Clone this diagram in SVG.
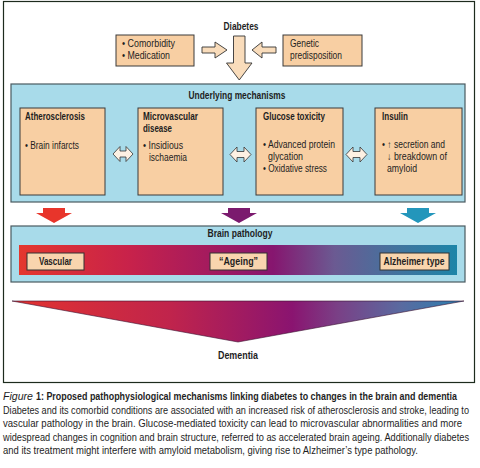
<svg xmlns="http://www.w3.org/2000/svg" width="480" height="468" viewBox="0 0 480 468">
<defs>
<style>
text{font-family:"Liberation Sans",Arial,sans-serif;fill:#1e1e1e}
.t{font-size:10px;font-weight:bold}
.b{font-size:10px}
.h{font-size:10px;font-weight:bold}
.c{font-size:8.6px}
.box{fill:#f8cfa3;stroke:#3a3a3a;stroke-width:1}
.lbl{fill:#f9d5ae;stroke:#333;stroke-width:1}
.panel{fill:#a8dbea;stroke:#4a5a60;stroke-width:1.2}
.arr{fill:#f9dcbb;stroke:#333;stroke-width:0.9;stroke-linejoin:miter}
.dbl{fill:#fdf1e3;stroke:#333;stroke-width:0.8}
</style>
<linearGradient id="bar" x1="0" y1="0" x2="1" y2="0">
<stop offset="0" stop-color="#e4372e"/>
<stop offset="0.25" stop-color="#c8224a"/>
<stop offset="0.45" stop-color="#a11a60"/>
<stop offset="0.58" stop-color="#86166f"/>
<stop offset="0.72" stop-color="#6b5a92"/>
<stop offset="0.86" stop-color="#43739e"/>
<stop offset="1" stop-color="#1d85a8"/>
</linearGradient>
<linearGradient id="tri" x1="0" y1="0" x2="1" y2="0">
<stop offset="0" stop-color="#e2332f"/>
<stop offset="0.35" stop-color="#c0244c"/>
<stop offset="0.62" stop-color="#8a1470"/>
<stop offset="0.72" stop-color="#7a4086"/>
<stop offset="0.86" stop-color="#5a6aa0"/>
<stop offset="1" stop-color="#2a80b0"/>
</linearGradient>
</defs>
<rect x="0" y="0" width="480" height="468" fill="#ffffff"/>
<rect x="3.5" y="1.5" width="471" height="381" fill="#ffffff" stroke="#1d2b1d" stroke-width="1.2"/>

<g id="diabetes"><text class="h" x="241" y="30" text-anchor="middle" textLength="35" lengthAdjust="spacingAndGlyphs">Diabetes</text></g>
<g id="comorbidity">
<rect class="box" x="116" y="35" width="78" height="31"/>
<text class="b" x="122" y="47" textLength="53" lengthAdjust="spacingAndGlyphs">• Comorbidity</text>
<text class="b" x="122" y="59" textLength="48" lengthAdjust="spacingAndGlyphs">• Medication</text>
</g>
<g id="genetic">
<rect class="box" x="283" y="35" width="79" height="31"/>
<text class="b" x="290" y="47" textLength="29" lengthAdjust="spacingAndGlyphs">Genetic</text>
<text class="b" x="290" y="59" textLength="52" lengthAdjust="spacingAndGlyphs">predisposition</text>
</g>

<g id="mechanisms">
<rect class="panel" x="11" y="84" width="454" height="118"/>
<text class="h" x="237" y="99" text-anchor="middle" textLength="97" lengthAdjust="spacingAndGlyphs">Underlying mechanisms</text>
</g>
<g id="atherosclerosis">
<rect class="box" x="20" y="108" width="85" height="87"/>
<text class="t" x="25" y="120" textLength="60" lengthAdjust="spacingAndGlyphs">Atherosclerosis</text>
<text class="b" x="25" y="149" textLength="54" lengthAdjust="spacingAndGlyphs">• Brain infarcts</text>
</g>
<g id="microvascular">
<rect class="box" x="138" y="108" width="85" height="87"/>
<text class="t" x="143" y="120" textLength="55" lengthAdjust="spacingAndGlyphs">Microvascular</text>
<text class="t" x="143" y="132" textLength="29" lengthAdjust="spacingAndGlyphs">disease</text>
<text class="b" x="143" y="149" textLength="40" lengthAdjust="spacingAndGlyphs">• Insidious</text>
<text class="b" x="149" y="161" textLength="38" lengthAdjust="spacingAndGlyphs">ischaemia</text>
</g>
<g id="glucose">
<rect class="box" x="256" y="108" width="87" height="87"/>
<text class="t" x="263" y="120" textLength="62" lengthAdjust="spacingAndGlyphs">Glucose toxicity</text>
<text class="b" x="263" y="148" textLength="72" lengthAdjust="spacingAndGlyphs">• Advanced protein</text>
<text class="b" x="268" y="160" textLength="35" lengthAdjust="spacingAndGlyphs">glycation</text>
<text class="b" x="263" y="172" textLength="64" lengthAdjust="spacingAndGlyphs">• Oxidative stress</text>
</g>
<g id="insulin">
<rect class="box" x="375" y="108" width="87" height="87"/>
<text class="t" x="382" y="120" textLength="26" lengthAdjust="spacingAndGlyphs">Insulin</text>
<text class="b" x="382" y="148" textLength="63" lengthAdjust="spacingAndGlyphs">• ↑ secretion and</text>
<text class="b" x="387" y="160" textLength="60" lengthAdjust="spacingAndGlyphs">↓ breakdown of</text>
<text class="b" x="387" y="172" textLength="30" lengthAdjust="spacingAndGlyphs">amyloid</text>
</g>

<g id="brain-pathology">
<rect class="panel" x="11" y="226" width="454" height="56"/>
<text class="h" x="240" y="237" text-anchor="middle" textLength="65" lengthAdjust="spacingAndGlyphs">Brain pathology</text>
<rect x="19" y="245" width="438" height="30" fill="url(#bar)"/>
</g>
<g id="vascular">
<rect class="lbl" x="27" y="253" width="57" height="17"/>
<text class="h" x="55.5" y="265" text-anchor="middle" textLength="33" lengthAdjust="spacingAndGlyphs">Vascular</text>
</g>
<g id="ageing">
<rect class="lbl" x="210" y="253" width="57" height="17"/>
<text class="h" x="238.5" y="265" text-anchor="middle" textLength="39" lengthAdjust="spacingAndGlyphs">“Ageing”</text>
</g>
<g id="alzheimer">
<rect class="lbl" x="380" y="253" width="69" height="17"/>
<text class="h" x="414" y="265" text-anchor="middle" textLength="61" lengthAdjust="spacingAndGlyphs">Alzheimer type</text>
</g>

<g id="dementia">
<polygon points="12,301 464,301 238,342" fill="url(#tri)" stroke="#3a1030" stroke-width="0.6"/>
<text class="h" x="238" y="359" text-anchor="middle" textLength="40" lengthAdjust="spacingAndGlyphs">Dementia</text>
</g>

<g id="connectors">
<polygon class="arr" points="202,47 215,47 215,42 227,50 215,58 215,53 202,53"/>
<polygon class="arr" points="276,47 262,47 262,42 252,50 262,58 262,53 276,53"/>
<polygon class="arr" points="233.5,36 245,36 245,63 252,63 239.25,80 226.5,63 233.5,63"/>
<polygon class="dbl" points="113,154 120,146.5 120,151 126,151 126,146.5 133,154 126,161.5 126,157 120,157 120,161.5"/>
<polygon class="dbl" points="230,154.5 237,147 237,151.5 244,151.5 244,147 251,154.5 244,162 244,157.5 237,157.5 237,162"/>
<polygon class="dbl" points="346,154.5 353,147 353,151.5 360,151.5 360,147 367,154.5 360,162 360,157.5 353,157.5 353,162"/>
<polygon points="43,208 65,208 65,213 72,213 54,223 36,213 43,213" fill="#e8352b"/>
<polygon points="228,208 250,208 250,213 257,213 239,223 221,213 228,213" fill="#7b1a6e"/>
<polygon points="407,208 429,208 429,213 436,213 418,223 400,213 407,213" fill="#2396bb"/>
</g>

<g id="caption">
<text class="c" transform="translate(3,400) scale(1,1.3)" x="0" y="0" font-style="italic" textLength="30" lengthAdjust="spacingAndGlyphs">Figure</text>
<text class="c" transform="translate(36,400) scale(1,1.3)" x="0" y="0" font-weight="bold" textLength="421" lengthAdjust="spacingAndGlyphs">1: Proposed pathophysiological mechanisms linking diabetes to changes in the brain and dementia</text>
<text class="c" transform="translate(3,413.5) scale(1,1.3)" x="0" y="0" textLength="466" lengthAdjust="spacingAndGlyphs">Diabetes and its comorbid conditions are associated with an increased risk of atherosclerosis and stroke, leading to</text>
<text class="c" transform="translate(3,427) scale(1,1.3)" x="0" y="0" textLength="459" lengthAdjust="spacingAndGlyphs">vascular pathology in the brain. Glucose-mediated toxicity can lead to microvascular abnormalities and more</text>
<text class="c" transform="translate(3,440.5) scale(1,1.3)" x="0" y="0" textLength="466" lengthAdjust="spacingAndGlyphs">widespread changes in cognition and brain structure, referred to as accelerated brain ageing. Additionally diabetes</text>
<text class="c" transform="translate(3,454) scale(1,1.3)" x="0" y="0" textLength="415" lengthAdjust="spacingAndGlyphs">and its treatment might interfere with amyloid metabolism, giving rise to Alzheimer’s type pathology.</text>
</g>
</svg>
